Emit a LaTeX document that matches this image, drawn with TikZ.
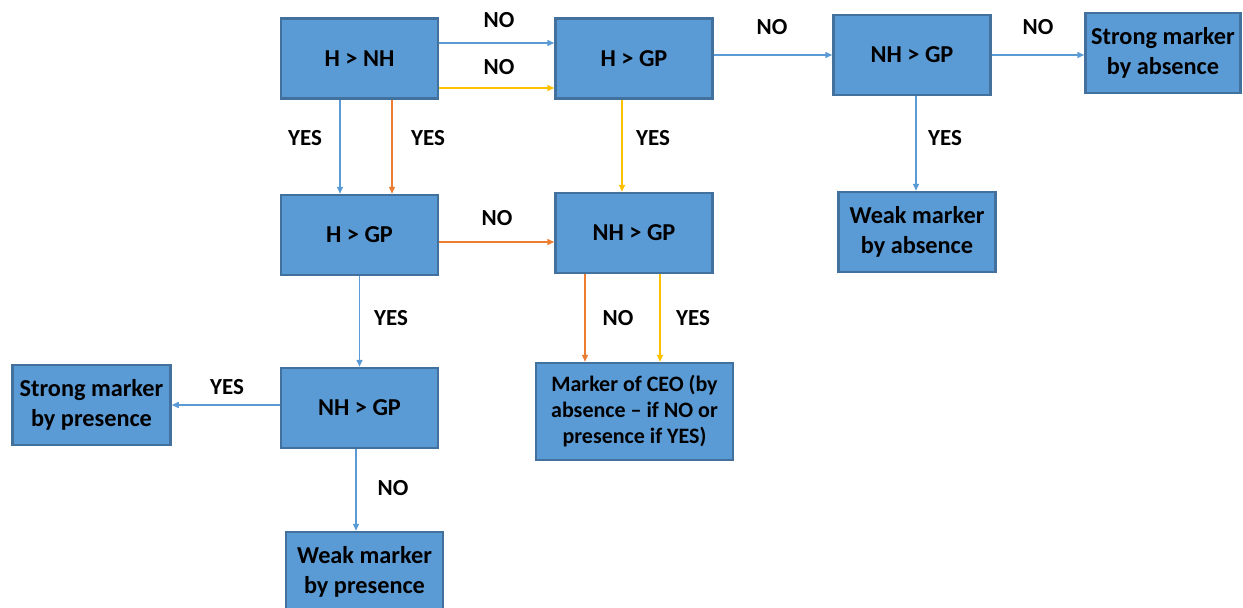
\documentclass[tikz,border=0pt]{standalone}
\usepackage{fontspec}
\setmainfont{Carlito}
\usetikzlibrary{arrows.meta,calc}
\definecolor{boxfill}{RGB}{91,155,213}
\definecolor{boxedge}{RGB}{65,113,156}
\definecolor{lblue}{RGB}{91,155,213}
\definecolor{lorange}{RGB}{237,125,49}
\definecolor{lyellow}{RGB}{255,192,0}
\tikzset{
  box/.style={draw=boxedge, line width=2.5pt, fill=boxfill, minimum width=157pt, minimum height=80pt,
    inner sep=2pt, align=center, font=\bfseries\fontsize{24.3}{29.5}\selectfont, text=black},
  lbl/.style={font=\bfseries\fontsize{23}{26}\selectfont, text=black, inner sep=0pt},
  conn/.style={line width=1.5pt, -{Triangle[length=7pt,width=6pt]}},
  cblue/.style={conn, draw=lblue, fill=lblue},
  corange/.style={conn, draw=lorange, fill=lorange},
  cyellow/.style={conn, draw=lyellow, fill=lyellow},
}
\begin{document}
\begin{tikzpicture}[x=1pt,y=-1pt]
\useasboundingbox (0,0) rectangle (1243,608);
% boxes
\node[box] (hnh) at (359.5,58.5) {H > NH};
\node[box] (hgpa) at (634,58.5) {H > GP};
\node[box] (nhgpa) at (912,55) {NH > GP};
\node[box, minimum width=155pt] (sabs) at (1163,53) {Strong marker\\by absence};
\node[box] (hgpb) at (359.5,235) {H > GP};
\node[box] (nhgpb) at (634,233) {NH > GP};
\node[box] (wabs) at (917,232) {Weak marker\\by absence};
\node[box] (nhgpc) at (359.5,408) {NH > GP};
\node[box, minimum width=158pt] (spres) at (91.5,405) {Strong marker\\by presence};
\node[box, minimum width=197pt, minimum height=97pt, font=\bfseries\fontsize{22}{26}\selectfont] (ceo) at (634.5,411.5) {Marker of CEO (by\\absence -- if NO or\\presence if YES)};
\node[box] (wpres) at (364.5,572) {Weak marker\\by presence};
% connectors
\draw[cblue] ([yshift=15.5pt]hnh.east) -- ([yshift=15.5pt]hnh.east -| hgpa.west);
\draw[cyellow] ([yshift=-29.5pt]hnh.east) -- ([yshift=-29.5pt]hnh.east -| hgpa.west);
\draw[cblue] (hgpa.east |- nhgpa.west) -- (nhgpa.west);
\draw[cblue] (nhgpa.east) -- (nhgpa.east -| sabs.west);
\draw[cblue] ([xshift=-19.5pt]hnh.south) -- ([xshift=-19.5pt]hnh.south |- hgpb.north);
\draw[corange] ([xshift=32.5pt]hnh.south) -- ([xshift=32.5pt]hnh.south |- hgpb.north);
\draw[cyellow] ([xshift=-12pt]hgpa.south) -- ([xshift=-12pt]hgpa.south |- nhgpb.north);
\draw[cblue] ([xshift=4pt]nhgpa.south) -- ([xshift=4pt]nhgpa.south |- wabs.north);
\draw[corange] ([yshift=-7pt]hgpb.east) -- ([yshift=-7pt]hgpb.east -| nhgpb.west);
\draw[cblue] (hgpb.south) -- (nhgpc.north);
\draw[corange] ([xshift=-49pt]nhgpb.south) -- ([xshift=-49pt]nhgpb.south |- ceo.north);
\draw[cyellow] ([xshift=26pt]nhgpb.south) -- ([xshift=26pt]nhgpb.south |- ceo.north);
\draw[cblue] (nhgpc.west |- spres.east) -- (spres.east);
\draw[cblue] ([xshift=-3.5pt]nhgpc.south) -- ([xshift=-3.5pt]nhgpc.south |- wpres.north);
% labels
\node[lbl] (l1) at (499,20) {NO};
\node[lbl] (l2) at (499,67) {NO};
\node[lbl] (l3) at (772,27) {NO};
\node[lbl] (l4) at (1038,27) {NO};
\node[lbl] (l5) at (305,138) {YES};
\node[lbl] (l6) at (428,138) {YES};
\node[lbl] (l7) at (653,138) {YES};
\node[lbl] (l8) at (945,138) {YES};
\node[lbl] (l9) at (497,218) {NO};
\node[lbl] (l10) at (391,318) {YES};
\node[lbl] (l11) at (618,318) {NO};
\node[lbl] (l12) at (693,318) {YES};
\node[lbl] (l13) at (227,387) {YES};
\node[lbl] (l14) at (393,488) {NO};
\end{tikzpicture}
\end{document}
